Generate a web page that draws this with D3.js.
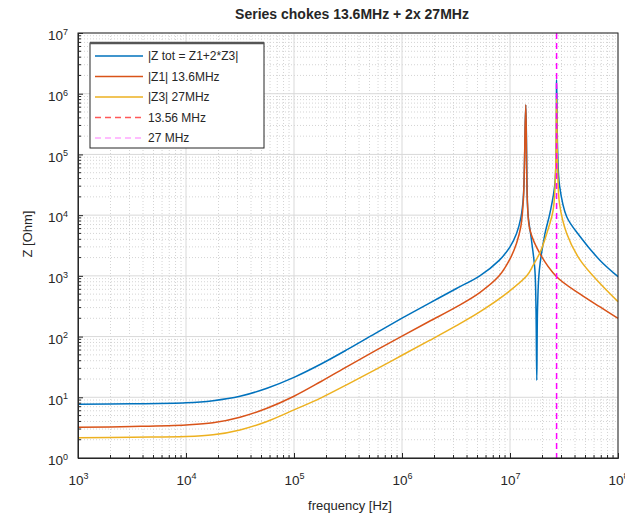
<!DOCTYPE html>
<html>
<head>
<meta charset="utf-8">
<script src="https://cdn.jsdelivr.net/npm/d3@7"></script>
<style>
body { margin: 0; background: #fff; }
text { font-family: "Liberation Sans", Arial, sans-serif; fill: #262626; }
</style>
</head>
<body>
<div id="chart-area"></div>
<script>
// values
var ztotF = [1e3, 3.16e3, 1e4, 1.78e4, 3.16e4, 5.62e4, 1e5, 1.78e5, 3.16e5, 5.62e5, 1e6, 1.78e6, 3.16e6, 5.25e6, 7.94e6, 1e7, 1.15e7, 1.26e7, 1.33e7, 1.40e7, 1.45e7, 1.48e7, 1.58e7, 1.70e7, 1.74e7, 1.77e7, 1.80e7, 1.87e7, 2.11e7, 2.34e7, 2.61e7, 2.70e7, 2.76e7, 2.88e7, 3.35e7, 4.45e7, 6.76e7, 1e8]
var ztot = [7.7, 7.8, 8.1, 8.8, 10.4, 14.1, 21.3, 35.3, 62, 112, 201, 353, 614, 1000, 1800, 3000, 5000, 9000, 20000, 650000, 16000, 9000, 3900, 1250, 300, 19, 300, 1250, 5000, 10700, 34000, 1700000, 120000, 30000, 9400, 4450, 1830, 970]

var z1F = [1e3, 3.16e3, 1e4, 1.78e4, 3.16e4, 5.62e4, 1e5, 1.78e5, 3.16e5, 5.62e5, 1e6, 1.78e6, 3.16e6, 5.25e6, 7.94e6, 1e7, 1.15e7, 1.26e7, 1.33e7, 1.40e7, 1.45e7, 1.53e7, 1.90e7, 2.70e7, 4.47e7, 6.76e7, 1e8]
var z1 = [3.2, 3.3, 3.5, 3.8, 4.7, 6.6, 10.4, 18.2, 32.7, 58, 102, 177, 305, 530, 1000, 1900, 3450, 6500, 17800, 660000, 15900, 5700, 2300, 970, 500, 310, 200]

var z3F = [1e3, 3.16e3, 1e4, 1.78e4, 3.16e4, 5.62e4, 1e5, 1.78e5, 3.16e5, 5.62e5, 1e6, 1.78e6, 3.16e6, 5.25e6, 9.3e6, 1.43e7, 1.64e7, 1.91e7, 2.19e7, 2.51e7, 2.65e7, 2.70e7, 2.76e7, 2.88e7, 3.35e7, 4.45e7, 6.76e7, 1e8]
var z3 = [2.15, 2.2, 2.25, 2.41, 2.9, 4.0, 6.2, 9.8, 16.5, 28.3, 49.2, 85.5, 150, 255, 515, 1000, 1500, 2500, 5000, 12200, 60000, 850000, 60000, 15000, 5000, 1830, 760, 376]

var marker27 = 27e6

var xTicks = [1e3, 1e4, 1e5, 1e6, 1e7, 1e8]
var yTicks = [1e0, 1e1, 1e2, 1e3, 1e4, 1e5, 1e6, 1e7]

var legendLabels = ["|Z tot = Z1+2*Z3|", "|Z1| 13.6MHz", "|Z3| 27MHz", "13.56 MHz", "27 MHz"]

var m = {l: 78, t: 33, r: 7, b: 59}
var cw = 625
var ch = 517
var w = cw - m.l - m.r
var h = ch - m.t - m.b

var svg = d3.select("#chart-area").append("svg")
    .attr("width", cw)
    .attr("height", ch)

var g = svg.append("g").attr("transform", "translate(" + m.l + ", " + m.t + ")")

var x = d3.scaleLog().domain([1e3, 1e8]).range([0, w])
var y = d3.scaleLog().domain([1e0, 1e7]).range([h, 0])

// minor grid
g.append("g").selectAll("line.mx")
    .data(x.ticks().filter(d => xTicks.indexOf(d) < 0))
    .enter().append("line")
    .attr("x1", d => x(d)).attr("x2", d => x(d))
    .attr("y1", 0).attr("y2", h)
    .attr("stroke", "#d4d4d4").attr("stroke-dasharray", "1,2")
g.append("g").selectAll("line.my")
    .data(y.ticks().filter(d => yTicks.indexOf(d) < 0))
    .enter().append("line")
    .attr("x1", 0).attr("x2", w)
    .attr("y1", d => y(d)).attr("y2", d => y(d))
    .attr("stroke", "#d4d4d4").attr("stroke-dasharray", "1,2")

// major grid
g.append("g").selectAll("line")
    .data(xTicks).enter().append("line")
    .attr("x1", d => x(d)).attr("x2", d => x(d))
    .attr("y1", 0).attr("y2", h)
    .attr("stroke", "#d9d9d9")
g.append("g").selectAll("line")
    .data(yTicks).enter().append("line")
    .attr("x1", 0).attr("x2", w)
    .attr("y1", d => y(d)).attr("y2", d => y(d))
    .attr("stroke", "#d9d9d9")

// curves
var series = [
    {f: ztotF, z: ztot, color: "#0072BD"},
    {f: z1F, z: z1, color: "#D95319"},
    {f: z3F, z: z3, color: "#EDB120"}
]

var line = d3.line()
    .x(d => x(d[0]))
    .y(d => y(d[1]))
    .curve(d3.curveCatmullRom.alpha(0.5))

series.forEach(s => {
    g.append("path")
        .datum(d3.zip(s.f, s.z))
        .attr("fill", "none")
        .attr("stroke", s.color)
        .attr("stroke-width", 1.5)
        .attr("d", line)
})

// 27 MHz marker
g.append("line")
    .attr("x1", x(marker27)).attr("x2", x(marker27))
    .attr("y1", 0).attr("y2", h)
    .attr("stroke", "#FF00FF")
    .attr("stroke-width", 1.5)
    .attr("stroke-dasharray", "6,4")

// axes
function supLabels(sel) {
    sel.selectAll(".tick text").each(function(d) {
        var t = d3.select(this)
        t.text("")
        t.append("tspan").text("10")
        t.append("tspan").attr("dy", "-0.6em").attr("font-size", "9px").text(Math.round(Math.log10(d)))
    })
}

var bottomAxis = d3.axisBottom(x).tickValues(xTicks).tickSize(-5).tickPadding(17)
var leftAxis = d3.axisLeft(y).tickValues(yTicks).tickSize(-5).tickPadding(10)

var xAxisGroup = g.append("g")
    .attr("transform", "translate(0, " + h + ")")
    .call(bottomAxis)
var yAxisGroup = g.append("g").call(leftAxis)

;[xAxisGroup, yAxisGroup].forEach(a => {
    a.select(".domain").attr("stroke", "#262626")
    a.selectAll(".tick line").attr("stroke", "#262626")
    a.selectAll(".tick text").attr("font-size", "13.5px").attr("fill", "#262626")
    supLabels(a)
})
yAxisGroup.selectAll(".tick text").attr("dy", "0.5em")

// minor ticks
g.append("g").selectAll("line")
    .data(x.ticks().filter(d => xTicks.indexOf(d) < 0))
    .enter().append("line")
    .attr("x1", d => x(d)).attr("x2", d => x(d))
    .attr("y1", h).attr("y2", h - 3)
    .attr("stroke", "#262626")
g.append("g").selectAll("line")
    .data(y.ticks().filter(d => yTicks.indexOf(d) < 0))
    .enter().append("line")
    .attr("x1", 0).attr("x2", 3)
    .attr("y1", d => y(d)).attr("y2", d => y(d))
    .attr("stroke", "#262626")

// box top/right
g.append("rect")
    .attr("width", w).attr("height", h)
    .attr("fill", "none")
    .attr("stroke", "#262626")
    .attr("stroke-width", 1)

// title and labels
svg.append("text")
    .attr("x", 352).attr("y", 19)
    .attr("text-anchor", "middle")
    .attr("font-size", "14px")
    .attr("font-weight", "bold")
    .text("Series chokes 13.6MHz + 2x 27MHz")

svg.append("text")
    .attr("x", 350).attr("y", 510)
    .attr("text-anchor", "middle")
    .attr("font-size", "13px")
    .text("frequency [Hz]")

svg.append("text")
    .attr("transform", "translate(32, 234) rotate(-90)")
    .attr("text-anchor", "middle")
    .attr("font-size", "13px")
    .text("Z [Ohm]")

// legend
var legStyles = [
    {color: "#0072BD", dash: null, op: 1},
    {color: "#D95319", dash: null, op: 1},
    {color: "#EDB120", dash: null, op: 1},
    {color: "#FF3030", dash: "6,4", op: 0.8},
    {color: "#FF00FF", dash: "6,4", op: 0.35}
]

var leg = svg.append("g").attr("transform", "translate(90, 43)")
leg.append("rect")
    .attr("width", 174).attr("height", 105)
    .attr("fill", "#fff")
    .attr("stroke", "#262626")
    .attr("stroke-width", 1)
leg.append("line")
    .attr("x1", 0).attr("x2", 174)
    .attr("y1", 0).attr("y2", 0)
    .attr("stroke", "#555")
    .attr("stroke-width", 2.5)

var items = leg.selectAll(".item")
    .data(legendLabels)
    .enter().append("g")
    .attr("transform", (d, i) => "translate(0, " + (13 + i * 20.5) + ")")

items.append("line")
    .attr("x1", 5).attr("x2", 53)
    .attr("stroke", (d, i) => legStyles[i].color)
    .attr("stroke-opacity", (d, i) => legStyles[i].op)
    .attr("stroke-dasharray", (d, i) => legStyles[i].dash)
    .attr("stroke-width", 1.5)

items.append("text")
    .attr("x", 58)
    .attr("dy", "0.35em")
    .attr("font-size", "12px")
    .text(d => d)
</script>
</body>
</html>
